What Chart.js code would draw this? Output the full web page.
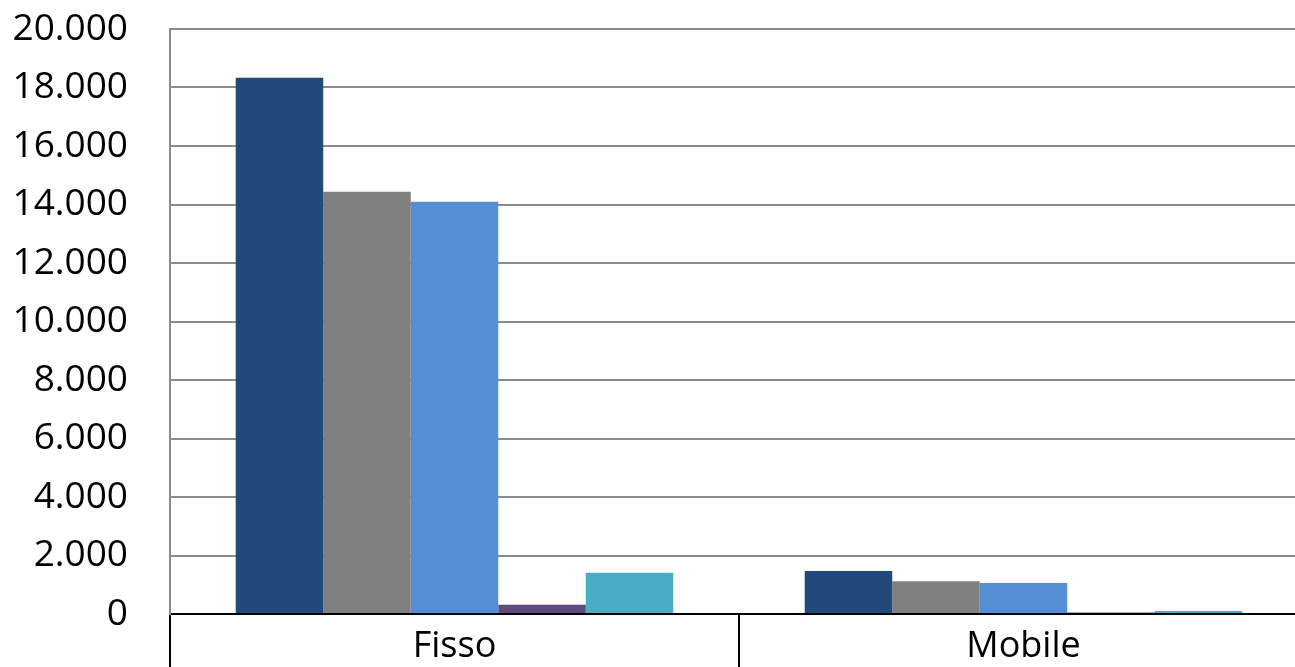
<!DOCTYPE html>
<html>
<head>
<meta charset="utf-8">
<script src="https://cdn.jsdelivr.net/npm/chart.js@4/dist/chart.umd.min.js"></script>
<style>
  html, body { margin: 0; padding: 0; background: #ffffff; overflow: hidden; }
  #wrap { width: 1310px; height: 667px; }
</style>
</head>
<body>
<div id="wrap"><canvas id="c" width="1310" height="667"></canvas></div>
<script>
// Categories on the x axis
const categories = ['Fisso', 'Mobile'];

// One value per category for each series
const serie1 = [18330, 1470];
const serie2 = [14440, 1120];
const serie3 = [14090, 1060];
const serie4 = [320, 50];
const serie5 = [1410, 100];

const seriesLabels = ['Serie 1', 'Serie 2', 'Serie 3', 'Serie 4', 'Serie 5'];
const seriesColors = ['#214a7b', '#808080', '#558ed5', '#604a7b', '#4bacc6'];

// Y axis range and step
const yMin = 0;
const yMax = 20000;
const yStep = 2000;

const values = [serie1, serie2, serie3, serie4, serie5];

// Thousands separated with a dot
const fmtTick = v => String(Math.round(v)).replace(/\B(?=(\d{3})+(?!\d))/g, '.');

const FONT = "'Open Sans', 'Liberation Sans', sans-serif";

new Chart(document.getElementById('c'), {
  type: 'bar',
  data: {
    labels: categories,
    datasets: values.map((v, i) => ({
      label: seriesLabels[i],
      data: v,
      backgroundColor: seriesColors[i],
      borderWidth: 0,
      barPercentage: 1.0,
      categoryPercentage: 0.769
    }))
  },
  options: {
    responsive: false,
    devicePixelRatio: 1,
    animation: false,
    layout: { padding: { top: 29, right: 2, left: 0, bottom: 0 } },
    plugins: {
      legend: { display: false },
      tooltip: { enabled: false }
    },
    scales: {
      x: {
        afterFit: s => { s.height = 53; },
        grid: {
          offset: true,
          drawOnChartArea: false,
          drawTicks: true,
          tickLength: 60,
          color: '#000000',
          lineWidth: 2
        },
        border: { display: true, color: '#000000', width: 2 },
        ticks: {
          color: '#000000',
          padding: -49,
          font: { family: FONT, size: 36 }
        }
      },
      y: {
        min: yMin,
        max: yMax,
        afterFit: s => { s.width = 170; },
        grid: {
          drawTicks: true,
          tickLength: 42,
          tickColor: 'rgba(0,0,0,0)',
          color: '#8c8c8c',
          lineWidth: 2
        },
        border: { display: true, color: '#8c8c8c', width: 2 },
        ticks: {
          stepSize: yStep,
          padding: 0,
          color: '#000000',
          font: { family: FONT, size: 37 },
          callback: v => fmtTick(v)
        }
      }
    }
  }
});
</script>
</body>
</html>
